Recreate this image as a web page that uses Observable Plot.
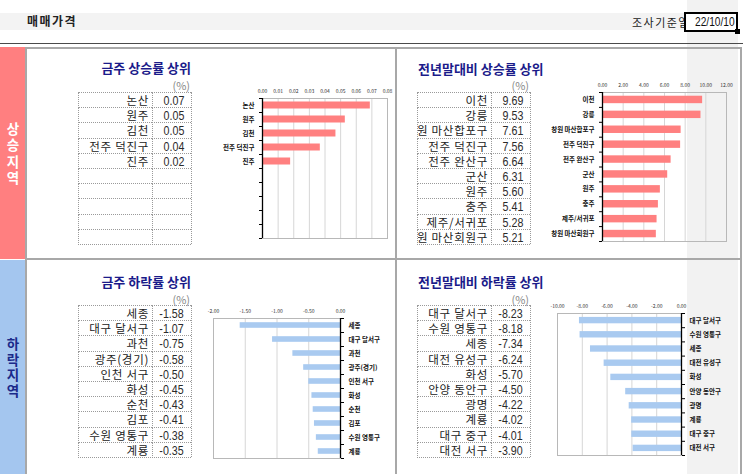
<!DOCTYPE html>
<html><head><meta charset="utf-8">
<script src="https://cdn.jsdelivr.net/npm/d3@7"></script>
<script src="https://cdn.jsdelivr.net/npm/@observablehq/plot@0.6"></script>
<style>
body{margin:0;background:#fff;}
#root{position:relative;width:743px;height:474px;overflow:hidden;font-family:"Noto Sans CJK KR","Noto Sans",sans-serif;}
.abs{position:absolute;}
.cell{position:absolute;box-sizing:border-box;border-top:1px dotted #9a9a9a;border-left:1px dotted #9a9a9a;overflow:hidden;white-space:nowrap;}
.nm{direction:rtl;text-align:right;font-size:11.5px;letter-spacing:0.7px;color:#222;padding-right:3px;}
.vl{text-align:right;font-family:"Liberation Sans",sans-serif;font-size:13px;color:#2a2a2a;padding-right:7px;}
.vl span{display:inline-block;transform:scaleX(0.82);transform-origin:100% 50%;}
.title{font-weight:bold;font-size:13px;color:#1b1b8a;white-space:nowrap;}
.pct{font-size:11px;color:#888;}
.vert{writing-mode:vertical-rl;text-orientation:upright;font-weight:bold;font-size:13.5px;line-height:25px;white-space:nowrap;}
</style></head>
<body><div id="root"></div>
<script>
// ---- data ----
const tlNames = ["논산","원주","김천","전주 덕진구","진주"];
const tlValues = [0.069,0.053,0.047,0.037,0.018];
const trNames = ["이천","강릉","창원 마산합포구","전주 덕진구","전주 완산구","군산","원주","충주","제주/서귀포","창원 마산회원구"];
const trValues = [9.69,9.53,7.61,7.56,6.64,6.31,5.60,5.41,5.28,5.21];
const blNames = ["세종","대구 달서구","과천","광주(경기)","인천 서구","화성","순천","김포","수원 영통구","계룡"];
const blValues = [-1.58,-1.07,-0.75,-0.58,-0.50,-0.45,-0.43,-0.41,-0.38,-0.35];
const brNames = ["대구 달서구","수원 영통구","세종","대전 유성구","화성","안양 동안구","광명","계룡","대구 중구","대전 서구"];
const brValues = [-8.23,-8.18,-7.34,-6.24,-5.70,-4.50,-4.22,-4.02,-4.01,-3.90];
const tlTicks = [0,0.01,0.02,0.03,0.04,0.05,0.06,0.07,0.08];
const trTicks = [0,2,4,6,8,10,12];
const blTicks = [-2,-1.5,-1,-0.5,0];
const brTicks = [-10,-8,-6,-4,-2,0];
const titles = ["금주 상승률 상위","전년말대비 상승률 상위","금주 하락률 상위","전년말대비 하락률 상위"];
const header = "매매가격", dateLabel = "조사기준일", dateValue = "22/10/10";
const upLabel = "상승지역", downLabel = "하락지역";

const root = document.getElementById("root");
function box(x,y,w,h,style){const d=document.createElement("div");d.className="abs";Object.assign(d.style,{left:x+"px",top:y+"px",width:w+"px",height:h+"px"},style||{});root.appendChild(d);return d;}
function txt(x,y,w,h,t,cls,style){const d=box(x,y,w,h,style);d.className="abs "+(cls||"");d.textContent=t;return d;}

// background column & header band
box(687,0,51,474,{background:"#f2f2f2"});
box(0,13,687,17,{background:"#f3f3f3"});
txt(27,12,120,18,header,"",{fontWeight:"bold",fontSize:"12px",letterSpacing:"1.5px",color:"#222",lineHeight:"18px"});
txt(560,13,130,18,dateLabel,"",{fontSize:"11px",letterSpacing:"1.5px",color:"#222",textAlign:"right",lineHeight:"18px"});
box(684,12,54,20,{background:"#fff",border:"2px solid #000",boxSizing:"border-box"});
const dv=txt(684,12,51,20,"","",{fontFamily:"'Liberation Sans',sans-serif",fontSize:"12px",textAlign:"right",lineHeight:"20px",color:"#111"});
const dvs=document.createElement("span");dvs.textContent=dateValue;Object.assign(dvs.style,{display:"inline-block",transform:"scaleX(0.85)",transformOrigin:"100% 50%"});dv.appendChild(dvs);
box(735,29,5,5,{background:"#000"});
box(0,43,743,1,{background:"#4a4a4a"});

// strips and frames
box(0,47,25,212,{background:"#ff7f80"});
box(0,260,25,214,{background:"#a4c6ef"});
txt(0,122,25,70,upLabel,"vert",{color:"#fff",letterSpacing:"3px"});
txt(0,337,25,70,downLabel,"vert",{color:"#1b2a8a",letterSpacing:"2.3px"});
box(25,47,717,2,{background:"#a8a8a8"});
box(25,258,717,2,{background:"#a8a8a8"});
box(25,47,2,427,{background:"#a8a8a8"});
box(395,47,2,427,{background:"#a8a8a8"});
box(740,47,2,427,{background:"#a8a8a8"});

// tables
function table(x,y,names,values){
  const rh=15.2;
  for(let i=0;i<10;i++){
    const c1=txt(x,y+i*rh,74,rh+1,names[i]??"","cell nm");c1.style.lineHeight=rh+"px";
    const c2=txt(x+74,y+i*rh,39,rh+1,"","cell vl");c2.style.lineHeight=rh+"px";
    if(values[i]!=null){const s=document.createElement("span");s.textContent=values[i].toFixed(2);c2.appendChild(s);}
  }
  box(x,y+10*rh,113,1,{borderTop:"1px dotted #9a9a9a",boxSizing:"border-box"});
  box(x+113,y,1,10*rh,{borderLeft:"1px dotted #9a9a9a",boxSizing:"border-box"});
}
table(78,92,tlNames,tlValues);
table(417,92,trNames,trValues);
table(78,305,blNames,blValues);
table(417,305,brNames,brValues);

// titles
txt(40,59,151,18,titles[0],"title",{textAlign:"right",lineHeight:"18px"});
txt(418,60,200,18,titles[1],"title",{lineHeight:"18px"});
txt(40,273,151,18,titles[2],"title",{textAlign:"right",lineHeight:"18px"});
txt(418,273,200,18,titles[3],"title",{lineHeight:"18px"});
txt(150,77,40,14,"(%)","pct",{textAlign:"right"});
txt(489,77,40,14,"(%)","pct",{textAlign:"right"});
txt(150,291,40,14,"(%)","pct",{textAlign:"right"});
txt(489,291,40,14,"(%)","pct",{textAlign:"right"});

// charts
function chart(o){
  const data=o.names.map((n,i)=>({name:n,value:o.values[i],i}));
  const f=o.frac;
  const p=Plot.plot({
    width:o.width,height:o.height,marginTop:o.mt,marginRight:o.mr,marginBottom:o.mb,marginLeft:o.ml,
    x:{domain:[o.ticks[0],o.ticks[o.ticks.length-1]],axis:null},
    y:{domain:[10,0],axis:null},
    style:{background:"transparent",fontFamily:"'Noto Sans CJK KR',sans-serif",overflow:"visible"},
    marks:[
      Plot.gridX(o.ticks.slice(1,-1),{stroke:"#d6d6d6",strokeOpacity:1}),
      Plot.frame({stroke:"#b8b8b8"}),
      Plot.rectX(data,{x1:()=>0,x2:"value",y1:d=>d.i+(1-f)/2,y2:d=>d.i+(1+f)/2,fill:o.color}),
      Plot.ruleX([0],{stroke:"#000",strokeWidth:1.3}),
      Plot.axisY(d3.range(0,11),{anchor:o.side,tickSize:3,tickFormat:()=>"",label:null,stroke:"#000"}),
      Plot.axisX(o.ticks,{anchor:"top",tickSize:0,tickPadding:6,tickFormat:d=>d.toFixed(2),fontSize:5,fill:"#333",label:null}),
      Plot.text(data,{x:()=>0,y:d=>d.i+0.5,text:"name",textAnchor:o.side==="left"?"end":"start",dx:o.side==="left"?-8:8,fontSize:6.5,fontWeight:"bold",fill:"#111"})
    ]
  });
  p.style.position="absolute";p.style.left=o.left+"px";p.style.top=o.top+"px";
  root.appendChild(p);
}
chart({names:tlNames,values:tlValues,ticks:tlTicks,color:"#ff8080",side:"left",left:200,top:80,width:195,height:165,mt:18,mr:8,mb:7,ml:62,frac:0.5});
chart({names:trNames,values:trValues,ticks:trTicks,color:"#ff8080",side:"left",left:540,top:74,width:195,height:174,mt:18,mr:9,mb:7,ml:62,frac:0.5});
chart({names:blNames,values:blValues,ticks:blTicks,color:"#a9caf0",side:"right",left:190,top:300,width:195,height:165,mt:18,mr:45,mb:7,ml:23,frac:0.4});
chart({names:brNames,values:brValues,ticks:brTicks,color:"#a9caf0",side:"right",left:540,top:295,width:195,height:165,mt:18,mr:54,mb:5,ml:17,frac:0.45});
</script></body></html>
